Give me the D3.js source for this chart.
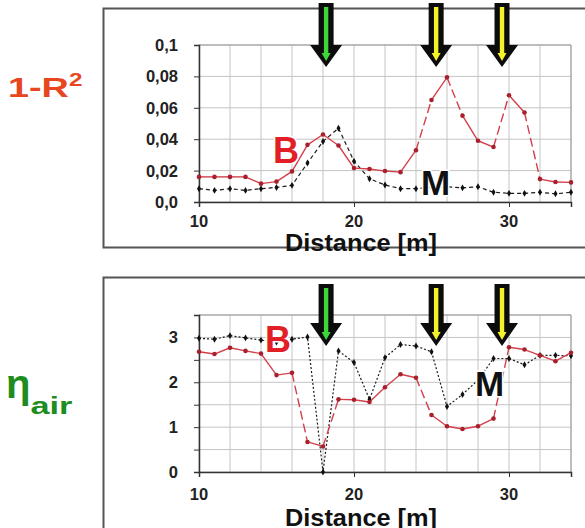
<!DOCTYPE html>
<html lang="en">
<head>
  <meta charset="UTF-8">
  <title>1-R2 and eta_air vs distance</title>
  <style>
    body { margin: 0; background: #fff; }
    svg { font-family: "Liberation Sans", Arial, sans-serif; }
    .grid line { stroke: #c4c4c4; stroke-width: 1; }
    .tick-label { font-size: 16.5px; font-weight: bold; fill: #222; }
    .axis-title { font-size: 23px; font-weight: bold; fill: #111; }
    .frame { fill: none; stroke: #555; stroke-width: 2; }
  </style>
</head>
<body>
<div id="chart"></div>
<script src="https://d3js.org/d3.v7.min.js"></script>
<script>
  // distance along the profile [m]
  var distance = [10, 11, 12, 13, 14, 15, 16, 17, 18, 19, 20, 21, 22, 23, 24, 25, 26, 27, 28, 29, 30, 31, 32, 33, 34];

  // 1-R^2, profile B and profile M
  var r2B = [0.016, 0.016, 0.016, 0.016, 0.0117, 0.013, 0.0195, 0.0364, 0.043, 0.036, 0.0216, 0.021, 0.0197,
             0.019, 0.033, 0.065, 0.0794, 0.055, 0.039, 0.035, 0.068, 0.057, 0.0146, 0.0127, 0.0125];
  var r2M = [0.0085, 0.0074, 0.0085, 0.0074, 0.0085, 0.0093, 0.0106, 0.0248, 0.0386, 0.047, 0.026, 0.0148, 0.0108,
             0.0085, 0.0085, 0.0095, 0.0097, 0.009, 0.0097, 0.0062, 0.0055, 0.0055, 0.0062, 0.0052, 0.0062];

  // eta_air, profile B and profile M
  var etaB = [2.68, 2.63, 2.77, 2.7, 2.64, 2.16, 2.21, 0.67, 0.57, 1.62, 1.61, 1.56, 1.89,
              2.18, 2.1, 1.27, 1.02, 0.96, 1.02, 1.19, 2.78, 2.73, 2.6, 2.47, 2.66];
  var etaM = [2.98, 2.96, 3.04, 2.99, 2.94, 2.9, 2.96, 3.01, 0, 2.7, 2.44, 1.62, 2.55,
              2.84, 2.81, 2.68, 1.46, 1.73, 2.05, 2.53, 2.53, 2.39, 2.6, 2.6, 2.59];

  // tick labels
  var xTicks = [10, 20, 30];
  var r2Ticks = [0, 0.02, 0.04, 0.06, 0.08, 0.1];
  var r2TickLabels = ["0,0", "0,02", "0,04", "0,06", "0,08", "0,1"];
  var etaTicks = [0, 1, 2, 3];

  // arrow markers (distance, colour)
  var arrowPos = [18.2, 25.3, 29.55];
  var arrowFill = ["#3fd63a", "#f4f22a", "#f4f22a"];

  var svg = d3.select("#chart").append("svg")
    .attr("width", 585)
    .attr("height", 528);

  var x = d3.scaleLinear().domain([10, 34]).range([199, 571]);
  var xGrid = d3.range(10, 35, 2);

  function drawPanel(opt) {
    var y = opt.y;
    var g = svg.append("g");

    // outer frame
    g.append("rect").attr("class", "frame")
      .attr("x", 103.5).attr("y", opt.frameTop)
      .attr("width", 520).attr("height", opt.frameH);

    // grid
    var grid = g.append("g").attr("class", "grid");
    grid.selectAll(".gx").data(xGrid).enter().append("line")
      .attr("x1", function(d) { return x(d); }).attr("x2", function(d) { return x(d); })
      .attr("y1", y.range()[0]).attr("y2", y.range()[1]);
    grid.selectAll(".gy").data(opt.gridY).enter().append("line")
      .attr("x1", x(10)).attr("x2", x(34))
      .attr("y1", function(d) { return y(d); }).attr("y2", function(d) { return y(d); });
    grid.append("line")
      .attr("x1", x(34)).attr("x2", x(34))
      .attr("y1", y.range()[0]).attr("y2", y.range()[1])
      .style("stroke", "#999");
    grid.append("line")
      .attr("x1", x(10)).attr("x2", x(34))
      .attr("y1", y.range()[1]).attr("y2", y.range()[1])
      .style("stroke", "#999");

    // axes
    var yAxis = d3.axisLeft(y).tickValues(opt.gridY).tickSize(5).tickFormat("");
    g.append("g").attr("transform", "translate(" + x(10) + ",0)").call(yAxis)
      .call(function(a) { a.select(".domain").attr("stroke", "#333").attr("stroke-width", 1.5); a.selectAll("line").attr("stroke", "#333"); });
    var xAxis = d3.axisBottom(x).tickValues(xTicks).tickSize(5).tickFormat("");
    g.append("g").attr("transform", "translate(0," + y.range()[0] + ")").call(xAxis)
      .call(function(a) { a.select(".domain").attr("stroke", "#333").attr("stroke-width", 1.5); a.selectAll("line").attr("stroke", "#333"); });

    g.selectAll(".yl").data(opt.yTicks).enter().append("text")
      .attr("class", "tick-label")
      .attr("x", 178).attr("y", function(d) { return y(d) + 6; })
      .attr("text-anchor", "end")
      .text(function(d, i) { return opt.yLabels[i]; });
    g.selectAll(".xl").data(xTicks).enter().append("text")
      .attr("class", "tick-label")
      .attr("x", function(d) { return x(d); }).attr("y", opt.xLabelY)
      .attr("text-anchor", "middle")
      .text(function(d) { return d; });
    g.append("text").attr("class", "axis-title")
      .attr("x", 285).attr("y", opt.titleY)
      .attr("textLength", 152).attr("lengthAdjust", "spacingAndGlyphs")
      .text("Distance [m]");

    // series M (black dotted)
    var line = d3.line().x(function(d) { return x(d[0]); }).y(function(d) { return y(d[1]); });
    var mPts = d3.zip(distance, opt.m);
    g.append("path").attr("d", line(mPts))
      .attr("fill", "none").attr("stroke", "#1a1a1a").attr("stroke-width", 1.2)
      .attr("stroke-dasharray", opt.mDash);
    g.selectAll(".mp").data(mPts).enter().append("path")
      .attr("d", d3.symbol(d3.symbolDiamond, 14))
      .attr("transform", function(d) { return "translate(" + x(d[0]) + "," + y(d[1]) + ")"; })
      .attr("fill", "#111");

    // series B (red), steep segments dashed
    var bPts = d3.zip(distance, opt.b);
    var segs = d3.pairs(bPts);
    g.selectAll(".bs").data(segs).enter().append("line")
      .attr("x1", function(d) { return x(d[0][0]); }).attr("y1", function(d) { return y(d[0][1]); })
      .attr("x2", function(d) { return x(d[1][0]); }).attr("y2", function(d) { return y(d[1][1]); })
      .attr("stroke", "#d2404c").attr("stroke-width", 1.4)
      .attr("stroke-dasharray", function(d) {
        var dx = x(d[1][0]) - x(d[0][0]), dy = y(d[1][1]) - y(d[0][1]);
        return Math.sqrt(dx * dx + dy * dy) > 38 ? "9,4" : null;
      });
    g.selectAll(".bp").data(bPts).enter().append("circle")
      .attr("cx", function(d) { return x(d[0]); }).attr("cy", function(d) { return y(d[1]); })
      .attr("r", 2.3).attr("fill", "#a8202c");

    // B / M labels
    g.append("text").attr("x", opt.bPos[0]).attr("y", opt.bPos[1])
      .attr("font-size", 36).attr("font-weight", "bold").attr("fill", "#e21e26")
      .style("paint-order", "stroke").attr("stroke", "#fff").attr("stroke-width", 3)
      .text("B");
    g.append("text").attr("x", opt.mPos[0]).attr("y", opt.mPos[1])
      .attr("font-size", 35).attr("font-weight", "bold").attr("fill", "#111")
      .style("paint-order", "stroke").attr("stroke", "#fff").attr("stroke-width", 3)
      .text("M");

    // arrows
    arrowPos.forEach(function(p, i) {
      var cx = x(p), t = opt.arrow[0], h = opt.arrow[1], tip = opt.arrow[2];
      var outer = [[cx - 7.5, t], [cx + 7.5, t], [cx + 7.5, h], [cx + 16, h], [cx, tip], [cx - 16, h], [cx - 7.5, h]];
      var inner = [[cx - 2.2, t + 4], [cx + 2.2, t + 4], [cx + 2.2, tip - 14], [cx + 4.5, tip - 14], [cx, tip - 6], [cx - 4.5, tip - 14], [cx - 2.2, tip - 14]];
      g.append("path").attr("d", "M" + outer.join("L") + "Z").attr("fill", "#0c0c0c");
      g.append("path").attr("d", "M" + inner.join("L") + "Z").attr("fill", arrowFill[i]);
    });
  }

  var yR2 = d3.scaleLinear().domain([0, 0.1]).range([202, 45]);
  drawPanel({
    y: yR2, frameTop: 8.5, frameH: 239,
    gridY: [0, 0.02, 0.04, 0.06, 0.08, 0.1],
    yTicks: r2Ticks, yLabels: r2TickLabels,
    xLabelY: 227, titleY: 251,
    b: r2B, m: r2M, mDash: "4,3",
    bPos: [273, 163], mPos: [421, 195],
    arrow: [3, 45, 67]
  });

  var yEta = d3.scaleLinear().domain([0, 3.5]).range([472, 315]);
  drawPanel({
    y: yEta, frameTop: 277.5, frameH: 300,
    gridY: [0, 0.5, 1, 1.5, 2, 2.5, 3, 3.5],
    yTicks: etaTicks, yLabels: etaTicks.map(String),
    xLabelY: 500, titleY: 526,
    b: etaB, m: etaM, mDash: "2,2",
    bPos: [265, 352], mPos: [475, 396],
    arrow: [284, 323, 346]
  });

  // left-hand titles
  var t1 = svg.append("text").attr("transform", "translate(8,97) scale(1.35,1)")
    .attr("font-size", 28).attr("font-weight", "bold").attr("fill", "#e8461e");
  t1.append("tspan").text("1-R");
  t1.append("tspan").attr("dy", -11).attr("font-size", 18).text("2");

  var t2 = svg.append("text").attr("x", 6).attr("y", 398)
    .attr("font-weight", "bold").attr("fill", "#1e8c1e");
  t2.append("tspan").attr("font-size", 40).text("η");
  t2.append("tspan").attr("dy", 16).attr("font-size", 23)
    .attr("textLength", 42).attr("lengthAdjust", "spacingAndGlyphs").text("air");
</script>
</body>
</html>
